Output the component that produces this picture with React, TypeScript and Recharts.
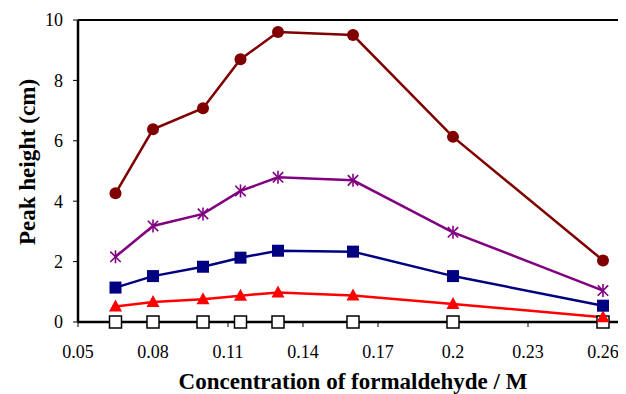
import React from "react"
import { LineChart, Line, XAxis, YAxis, ReferenceLine, Label } from "recharts"

// formaldehyde concentration (M)
const conc = [0.065, 0.08, 0.1, 0.115, 0.13, 0.16, 0.2, 0.26]

// peak heights (cm) for each series
const seriesBlank = [0, 0, 0, 0, 0, 0, 0, 0]
const seriesRed = [0.51, 0.66, 0.75, 0.87, 0.98, 0.88, 0.6, 0.16]
const seriesBlue = [1.14, 1.52, 1.83, 2.13, 2.36, 2.33, 1.52, 0.54]
const seriesPurple = [2.16, 3.18, 3.58, 4.34, 4.79, 4.69, 2.97, 1.04]
const seriesBrown = [4.26, 6.38, 7.08, 8.7, 9.6, 9.5, 6.13, 2.04]

const xTicks = [0.05, 0.08, 0.11, 0.14, 0.17, 0.2, 0.23, 0.26]
const yTicks = [0, 2, 4, 6, 8, 10]

const data = conc.map((c, i) => ({
  x: c,
  blank: seriesBlank[i],
  red: seriesRed[i],
  blue: seriesBlue[i],
  purple: seriesPurple[i],
  brown: seriesBrown[i],
}))

const FONT = "'Liberation Serif', 'DejaVu Serif', serif"

const OpenSquare = (props: any) => {
  const { cx, cy, index } = props
  if (cx == null || cy == null) return null
  return <rect key={index} x={cx - 6} y={cy - 6} width={12} height={12} fill="#fff" stroke="#000" strokeWidth={1.5} />
}

const Triangle = (props: any) => {
  const { cx, cy, index } = props
  if (cx == null || cy == null) return null
  return <polygon key={index} points={`${cx},${cy - 7} ${cx + 6.5},${cy + 5} ${cx - 6.5},${cy + 5}`} fill="#ff0000" />
}

const Square = (props: any) => {
  const { cx, cy, index } = props
  if (cx == null || cy == null) return null
  return <rect key={index} x={cx - 6} y={cy - 6} width={12} height={12} fill="#000080" />
}

const Star = (props: any) => {
  const { cx, cy, index } = props
  if (cx == null || cy == null) return null
  const r = 6.5
  const d = r * 0.8
  return (
    <g key={index} stroke="#800080" strokeWidth={1.6}>
      <line x1={cx} y1={cy - r} x2={cx} y2={cy + r} />
      <line x1={cx - d} y1={cy - d} x2={cx + d} y2={cy + d} />
      <line x1={cx - d} y1={cy + d} x2={cx + d} y2={cy - d} />
    </g>
  )
}

const Circle = (props: any) => {
  const { cx, cy, index } = props
  if (cx == null || cy == null) return null
  return <circle key={index} cx={cx} cy={cy} r={6} fill="#800000" />
}

const YTitle = (props: any) => {
  const vb = props.viewBox || {}
  const cx = 35
  const cy = vb.y + vb.height / 2 - 9
  return (
    <text x={cx} y={cy} transform={`rotate(-90, ${cx}, ${cy})`} textAnchor="middle"
      fontFamily={FONT} fontWeight="bold" fontSize={23} fill="#000">
      Peak height (cm)
    </text>
  )
}

const XTick = (props: any) => {
  const { x, y, payload } = props
  return (
    <text x={x} y={y} dy="0.71em" textAnchor="middle" fontFamily={FONT} fontSize={18} fill="#000">
      {String(payload.value)}
    </text>
  )
}

const YTick = (props: any) => {
  const { x, y, payload } = props
  return (
    <text x={x} y={y} dy="0.355em" textAnchor="end" fontFamily={FONT} fontSize={18} fill="#000">
      {String(payload.value)}
    </text>
  )
}

export default function App() {
  return (
    <div style={{ margin: "-8px 0 0 -8px", width: 626, height: 394, overflow: "hidden", background: "#fff" }}>
      <LineChart width={640} height={394} data={data} margin={{ top: 20, right: 12, left: 0, bottom: 0 }}>
        <XAxis
          dataKey="x"
          type="number"
          domain={[0.05, 0.27]}
          ticks={xTicks}
          height={72}
          axisLine={{ stroke: "#000", strokeWidth: 2.5 }}
          tickLine={{ stroke: "#000", strokeWidth: 1 }}
          tickSize={5}
          tickMargin={18}
          tick={<XTick />}
          allowDataOverflow
        >
          <Label content={(p: any) => {
            const vb = p.viewBox
            return (
              <text x={vb.x + vb.width / 2} y={vb.y + vb.height - 5} textAnchor="middle"
                fontFamily={FONT} fontWeight="bold" fontSize={23} fill="#000">
                Concentration of formaldehyde / M
              </text>
            )
          }} />
        </XAxis>
        <YAxis
          type="number"
          domain={[0, 10]}
          ticks={yTicks}
          width={78}
          axisLine={{ stroke: "#000", strokeWidth: 2.5 }}
          tickLine={{ stroke: "#000", strokeWidth: 1 }}
          tickSize={5}
          tickMargin={10}
          tick={<YTick />}
        >
          <Label content={<YTitle />} />
        </YAxis>
        <ReferenceLine y={10} stroke="#000" strokeWidth={2} />
        <ReferenceLine x={0.27} stroke="#000" strokeWidth={2} />
        <Line dataKey="blank" stroke="none" dot={<OpenSquare />} activeDot={false} isAnimationActive={false} />
        <Line dataKey="red" stroke="#ff0000" strokeWidth={2.5} dot={<Triangle />} activeDot={false} isAnimationActive={false} />
        <Line dataKey="blue" stroke="#000080" strokeWidth={2.5} dot={<Square />} activeDot={false} isAnimationActive={false} />
        <Line dataKey="purple" stroke="#800080" strokeWidth={2.5} dot={<Star />} activeDot={false} isAnimationActive={false} />
        <Line dataKey="brown" stroke="#800000" strokeWidth={2.5} dot={<Circle />} activeDot={false} isAnimationActive={false} />
      </LineChart>
    </div>
  )
}
